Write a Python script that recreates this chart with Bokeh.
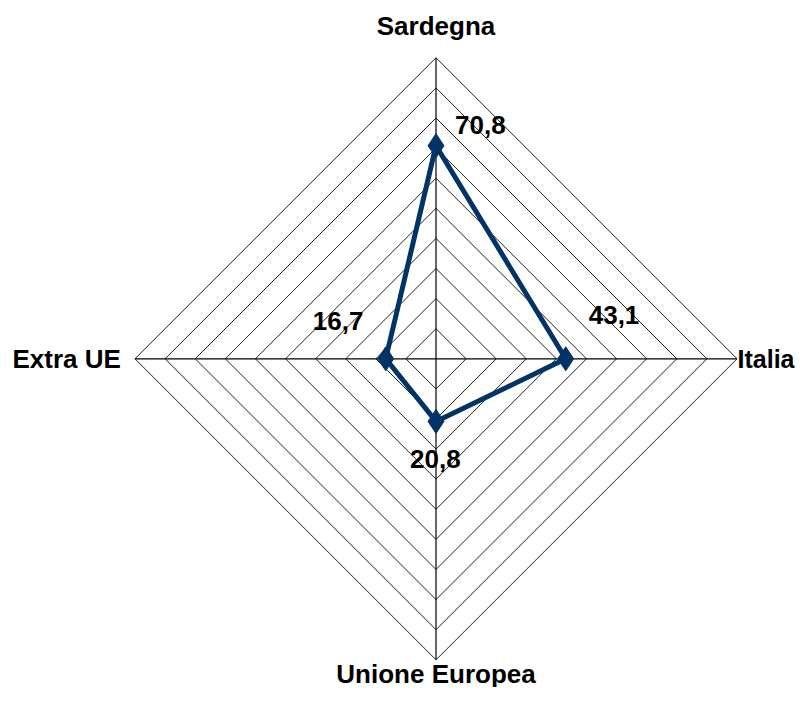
from bokeh.plotting import figure
from bokeh.models import Range1d
from bokeh.embed import file_html
from bokeh.resources import INLINE
from bokeh.core.properties import value
import numpy as np

categories = ["Sardegna", "Italia", "Unione Europea", "Extra UE"]
values = [70.8, 43.1, 20.8, 16.7]
value_labels = ["70,8", "43,1", "20,8", "16,7"]
ring_levels = [10, 20, 30, 40, 50, 60, 70, 80, 90, 100]
r_max = 100

# angles: top, right, bottom, left (clockwise from top)
angles = [np.pi / 2, 0.0, -np.pi / 2, np.pi]

W, H = 795, 687
scale = 3.01  # px per unit
cx, cy = 435.5, 358.3  # center in canvas px

p = figure(width=W, height=H, output_backend="svg", toolbar_location=None,
           x_range=Range1d(-cx / scale, (W - cx) / scale),
           y_range=Range1d(-(H - cy) / scale, cy / scale),
           min_border=0, match_aspect=False)
p.axis.visible = False
p.grid.visible = False
p.outline_line_color = None
p.background_fill_color = "white"
p.border_fill_color = "white"

# rings
for lv in ring_levels:
    xs = [lv * np.cos(a) for a in angles] + [lv * np.cos(angles[0])]
    ys = [lv * np.sin(a) for a in angles] + [lv * np.sin(angles[0])]
    p.line(xs, ys, line_color="#222222", line_width=1)

# spokes
for a in angles:
    p.line([0, r_max * np.cos(a)], [0, r_max * np.sin(a)], line_color="black", line_width=1.2)

# data
dx = [v * np.cos(a) for v, a in zip(values, angles)]
dy = [v * np.sin(a) for v, a in zip(values, angles)]
p.line(dx + [dx[0]], dy + [dy[0]], line_color="#003366", line_width=5, line_join="round")
p.scatter(dx, dy, marker="diamond", size=24, fill_color="#003366", line_color="#003366")

font = value("Liberation Sans")

# value labels (offsets in px)
offs = [(19, 12), (23, 35), (-26, -47), (-73, 29)]
for x, y, t, (ox, oy) in zip(dx, dy, value_labels, offs):
    p.text([x], [y], text=[t], x_offset=ox, y_offset=-oy, text_font=font,
           text_font_size="26px", text_font_style="bold", text_color="black",
           text_align="left", text_baseline="bottom")

# category labels (kept inside the canvas)
cat_pos = [
    (0, r_max + 10.5, "center", "middle", "26px"),
    ((W - 1 - cx) / scale, 0, "right", "middle", "25px"),
    (0, -(673 - cy) / scale, "center", "middle", "26px"),
    (-(r_max + 4.7), 0, "right", "middle", "26px"),
]
for (x, y, al, bl, fs), t in zip(cat_pos, categories):
    p.text([x], [y], text=[t], text_font=font, text_font_size=fs,
           text_font_style="bold", text_color="black", text_align=al, text_baseline=bl)

open("out.html", "w").write(file_html(p, INLINE))
